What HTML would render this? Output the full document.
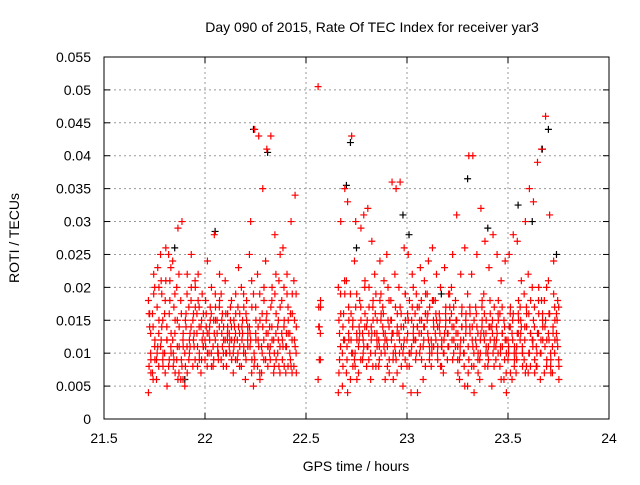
<!DOCTYPE html>
<html><head><meta charset="utf-8"><style>
body{margin:0;background:#fff}
svg text{font-family:"Liberation Sans",sans-serif;font-size:14px;fill:#000}
</style></head><body>
<svg id="chart" width="640" height="480" viewBox="0 0 640 480" xmlns="http://www.w3.org/2000/svg">
<text x="372" y="32" text-anchor="middle">Day 090 of 2015, Rate Of TEC Index for receiver yar3</text>
<text x="356" y="471" text-anchor="middle">GPS time / hours</text>
<text transform="translate(19,238) rotate(-90)" text-anchor="middle">ROTI / TECUs</text>
<g id="grid"></g><g id="ticks"></g><g id="marks"></g>
<rect x="104" y="57" width="505" height="362" fill="none" stroke="#000" stroke-width="1"/>
</svg>
<script>
const xTicks=[21.5,22,22.5,23,23.5,24];
const xTickLabels=["21.5","22","22.5","23","23.5","24"];
const yTicks=[0,0.005,0.01,0.015,0.02,0.025,0.03,0.035,0.04,0.045,0.05,0.055];
const yTickLabels=["0","0.005","0.01","0.015","0.02","0.025","0.03","0.035","0.04","0.045","0.05","0.055"];
const redTimes=[21.72,21.74,21.76,21.78,21.80,21.82,21.84,21.86,21.88,21.90,21.92,21.94,21.96,21.98,22.00,22.02,22.04,22.06,22.08,22.10,22.12,22.14,22.16,22.18,22.20,22.22,22.24,22.26,22.28,22.30,22.32,22.34,22.36,22.38,22.40,22.42,22.44,22.56,22.66,22.68,22.70,22.72,22.74,22.76,22.78,22.80,22.82,22.84,22.86,22.88,22.90,22.92,22.94,22.96,22.98,23.00,23.02,23.04,23.06,23.08,23.10,23.12,23.14,23.16,23.18,23.20,23.22,23.24,23.26,23.28,23.30,23.32,23.34,23.36,23.38,23.40,23.42,23.44,23.46,23.48,23.50,23.52,23.54,23.56,23.58,23.60,23.62,23.64,23.66,23.68,23.70,23.72,23.74];
const redValues=[
[.004,.014,.009,.018,.016,.007],[.007,.022,.012,.016,.019,.009],[.009,.023,.015,.006,.011,.020],[.011,.019,.008,.025,.014,.010],[.010,.026,.005,.016,.021,.012],[.008,.021,.013,.025,.018,.010],[.012,.017,.007,.024,.009,.015],[.009,.029,.014,.020,.006,.011],[.006,.030,.011,.018,.008,.013],[.005,.016,.022,.010,.014,.007],
[.009,.013,.025,.017,.011,.020],[.015,.011,.020,.008,.013,.017],[.013,.022,.010,.016,.018,.009],[.014,.019,.011,.007,.012,.016],[.012,.016,.024,.009,.014,.010],[.010,.015,.020,.013,.017,.008],[.011,.028,.017,.008,.013,.015],[.013,.010,.022,.015,.009,.018],[.009,.016,.012,.019,.011,.014],[.012,.008,.014,.021,.010,.016],
[.011,.017,.009,.013,.015,.012],[.010,.014,.019,.007,.012,.016],[.012,.023,.016,.009,.014,.011],[.008,.015,.011,.020,.013,.017],[.010,.018,.013,.006,.015,.011],[.014,.030,.009,.025,.012,.017],[.005,.044,.012,.019,.009,.015],[.008,.043,.015,.022,.011,.006],[.011,.035,.018,.007,.014,.020],[.009,.041,.013,.024,.016,.011],
[.014,.043,.020,.010,.017,.012],[.012,.028,.016,.007,.019,.009],[.010,.021,.025,.014,.008,.017],[.013,.026,.008,.018,.011,.015],[.007,.022,.015,.011,.019,.013],[.010,.030,.019,.013,.008,.016],[.008,.034,.014,.021,.011,.007],[.006,.014,.018,.0505,.009,.017],[.004,.013,.030,.020,.009,.016],[.005,.016,.035,.010,.012,.019],
[.007,.033,.012,.021,.004,.015],[.006,.043,.015,.019,.010,.008],[.009,.030,.012,.024,.017,.006],[.011,.018,.029,.007,.013,.015],[.013,.031,.016,.009,.011,.021],[.008,.032,.020,.014,.011,.017],[.010,.027,.015,.006,.013,.018],[.013,.019,.011,.022,.008,.015],[.008,.024,.016,.012,.018,.010],[.014,.021,.006,.017,.011,.013],
[.012,.020,.009,.025,.015,.007],[.015,.036,.010,.018,.013,.006],[.011,.035,.016,.022,.009,.014],[.013,.036,.008,.020,.017,.011],[.010,.026,.015,.005,.012,.019],[.012,.025,.018,.008,.015,.010],[.004,.022,.014,.010,.017,.012],[.016,.019,.004,.012,.010,.014],[.013,.023,.009,.017,.011,.015],[.011,.021,.016,.006,.014,.019],
[.015,.024,.010,.019,.012,.017],[.012,.026,.014,.008,.018,.011],[.018,.022,.009,.013,.015,.011],[.014,.020,.011,.016,.008,.012],[.010,.023,.017,.007,.013,.015],[.013,.019,.015,.009,.011,.017],[.016,.025,.012,.020,.009,.014],[.011,.031,.007,.018,.015,.013],[.009,.022,.014,.006,.012,.017],[.012,.026,.016,.010,.005,.014],
[.005,.040,.013,.019,.009,.016],[.008,.040,.015,.022,.011,.004],[.012,.025,.010,.017,.014,.007],[.009,.032,.015,.006,.013,.018],[.013,.027,.011,.019,.008,.015],[.010,.023,.016,.008,.014,.012],[.014,.028,.012,.005,.010,.017],[.011,.025,.018,.009,.013,.015],[.008,.021,.013,.016,.006,.011],[.006,.024,.010,.015,.012,.004],
[.009,.025,.017,.012,.014,.007],[.013,.028,.011,.006,.016,.009],[.010,.027,.015,.007,.013,.018],[.012,.021,.008,.017,.014,.010],[.009,.030,.014,.019,.007,.016],[.007,.035,.013,.022,.010,.018],[.012,.033,.009,.020,.015,.007],[.008,.039,.016,.011,.013,.020],[.010,.041,.014,.006,.018,.012],[.007,.046,.012,.018,.015,.009],
[.013,.031,.009,.021,.016,.007],[.011,.024,.015,.007,.019,.012],[.016,.018,.008,.013,.011,.006]];
const redValuesB=[
[.008,.013,.016,.010],[.006,.011,.014,.020],[.010,.008,.017,.013],[.012,.009,.021,.015],[.007,.012,.018,.014],[.009,.011,.016,.023],[.010,.013,.008,.019],[.011,.007,.015,.022],[.009,.012,.016,.006],[.008,.011,.015,.019],
[.010,.014,.012,.018],[.012,.009,.016,.021],[.011,.014,.008,.017],[.009,.013,.015,.011],[.011,.013,.018,.008],[.012,.010,.014,.016],[.009,.012,.015,.019],[.011,.014,.010,.017],[.013,.010,.015,.008],[.010,.013,.016,.012],
[.012,.014,.010,.018],[.011,.009,.015,.013],[.010,.013,.017,.008],[.012,.010,.014,.019],[.009,.012,.016,.014],[.011,.007,.013,.021],[.010,.013,.008,.017],[.012,.007,.014,.019],[.010,.012,.016,.009],[.013,.008,.015,.011],
[.011,.014,.009,.018],[.010,.013,.008,.022],[.012,.007,.015,.011],[.009,.014,.012,.020],[.011,.008,.013,.017],[.009,.012,.016,.007],[.012,.010,.015,.019],[.017,.009,.014,.013],[.007,.011,.015,.019],[.008,.012,.014,.021],
[.009,.013,.011,.017],[.012,.010,.016,.014],[.010,.013,.008,.019],[.012,.009,.014,.017],[.010,.014,.012,.020],[.011,.013,.015,.009],[.012,.008,.014,.017],[.010,.013,.016,.012],[.011,.015,.009,.019],[.013,.010,.016,.012],
[.011,.014,.008,.018],[.012,.009,.015,.013],[.010,.013,.017,.007],[.012,.016,.010,.014],[.011,.009,.014,.019],[.013,.010,.016,.008],[.011,.013,.015,.020],[.012,.014,.009,.017],[.010,.013,.015,.018],[.012,.008,.014,.016],
[.013,.011,.016,.009],[.011,.015,.010,.018],[.012,.014,.016,.010],[.013,.011,.015,.008],[.012,.014,.010,.016],[.011,.015,.013,.019],[.012,.010,.014,.017],[.013,.009,.015,.011],[.011,.014,.010,.016],[.010,.013,.008,.015],
[.011,.014,.007,.017],[.012,.010,.014,.008],[.011,.013,.016,.009],[.010,.014,.012,.017],[.012,.010,.016,.013],[.011,.014,.009,.018],[.013,.011,.015,.008],[.012,.010,.014,.016],[.010,.013,.011,.017],[.009,.012,.014,.007],
[.011,.014,.010,.016],[.012,.010,.015,.008],[.011,.013,.009,.016],[.013,.011,.015,.010],[.012,.008,.014,.017],[.010,.013,.016,.008],[.011,.014,.012,.017],[.010,.013,.008,.018],[.012,.015,.010,.016],[.011,.008,.014,.020],
[.012,.010,.016,.008],[.013,.010,.014,.017],[.012,.009,.015,.017]];
const blackTimes=[21.85,21.90,22.05,22.24,22.31,22.70,22.72,22.75,22.98,23.01,23.17,23.30,23.40,23.55,23.62,23.67,23.70,23.74];
const blackValues=[0.026,0.006,0.0285,0.044,0.0405,0.0355,0.042,0.026,0.031,0.028,0.019,0.0365,0.029,0.0325,0.03,0.041,0.044,0.025];

const X=t=>104+(t-21.5)*202;
const Y=v=>419-v*6582;
const NS="http://www.w3.org/2000/svg";
function mk(tag,attrs,parent){const e=document.createElementNS(NS,tag);for(const k in attrs)e.setAttribute(k,attrs[k]);document.getElementById(parent).appendChild(e);return e;}
xTicks.forEach((t,i)=>{
  const x=X(t);
  if(i>0&&i<xTicks.length-1){const g=mk('line',{x1:x,x2:x,y1:57,y2:419,stroke:'#999','stroke-dasharray':'2,3'},'grid');
  
  }
  mk('line',{x1:x,x2:x,y1:419,y2:413,stroke:'#000'},'ticks');
  mk('line',{x1:x,x2:x,y1:57,y2:63,stroke:'#000'},'ticks');
  const tx=mk('text',{x:x,y:443,'text-anchor':'middle'},'ticks');tx.textContent=xTickLabels[i];
  
  
});
yTicks.forEach((v,i)=>{
  const y=Y(v);
  if(i>0&&i<yTicks.length-1){const g=mk('line',{x1:104,x2:609,y1:y,y2:y,stroke:'#999','stroke-dasharray':'2,3'},'grid');
  
  }
  mk('line',{x1:104,x2:110,y1:y,y2:y,stroke:'#000'},'ticks');
  mk('line',{x1:609,x2:603,y1:y,y2:y,stroke:'#000'},'ticks');
  const tx=mk('text',{x:91,y:y+5,'text-anchor':'end'},'ticks');tx.textContent=yTickLabels[i];
  
  
});
function plus(t,v,color,name){
  const x=X(t),y=Y(v);
  const p=mk('path',{d:`M${x-3.5},${y}H${x+3.5}M${x},${y-3.5}V${y+3.5}`,stroke:color,'stroke-width':1.2,fill:'none'},'marks');
  
  
}
blackTimes.forEach((t,i)=>plus(t,blackValues[i],'#000','black-point'));
redTimes.forEach((t,i)=>redValues[i].forEach((v,j)=>plus(t+(j%3)*0.006,v,'#f00','red-point')));
redTimes.forEach((t,i)=>redValuesB[i].forEach((v,j)=>plus(t+0.003+(j%2)*0.008,v,'#f00','red-point')));
</script>
</body></html>
